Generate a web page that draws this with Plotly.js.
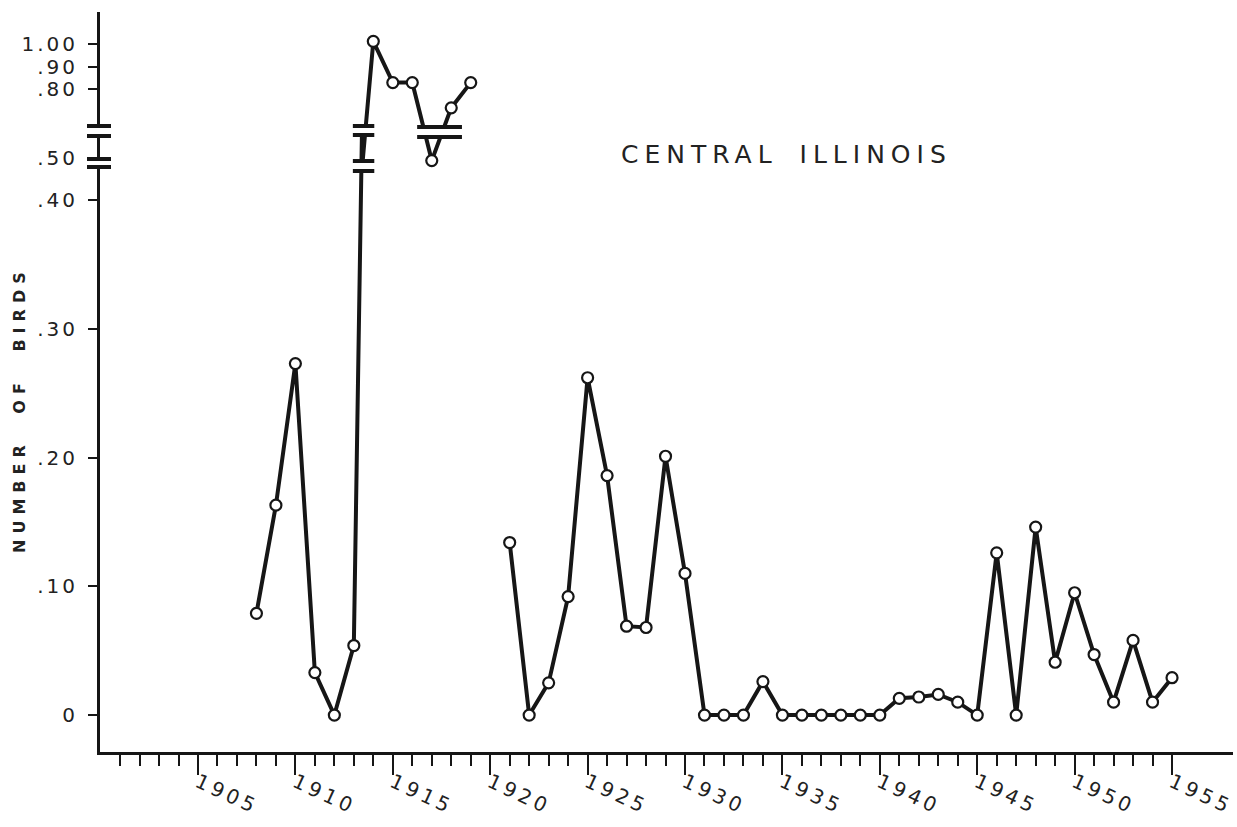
<!DOCTYPE html>
<html>
<head>
<meta charset="utf-8">
<script src="https://cdn.plot.ly/plotly-3.0.1.min.js"></script>
<style>
  html, body { margin: 0; padding: 0; background: #fff; }
  #chart { width: 1237px; height: 827px; }
  .xtick text { letter-spacing: 4px; }
  .ytick text, .y2tick text { letter-spacing: 3px; }
  .annotation[data-index="0"] text { letter-spacing: 6px; word-spacing: 8px; }
  .annotation[data-index="1"] text { letter-spacing: 6px; word-spacing: 14px; }
</style>
</head>
<body>
<div id="chart"></div>
<script>
// ---- data ----
const years = [1908, 1909, 1910, 1911, 1912, 1913, 1914, 1915, 1916, 1917, 1918, 1919, 1920,
  1921, 1922, 1923, 1924, 1925, 1926, 1927, 1928, 1929, 1930,
  1931, 1932, 1933, 1934, 1935, 1936, 1937, 1938, 1939, 1940,
  1941, 1942, 1943, 1944, 1945, 1946, 1947, 1948, 1949, 1950,
  1951, 1952, 1953, 1954, 1955];
const birds = [0.079, 0.163, 0.273, 0.033, 0.000, 0.054, 1.01, 0.83, 0.83, 0.49, 0.72, 0.83, null,
  0.134, 0.000, 0.025, 0.092, 0.262, 0.186, 0.069, 0.068, 0.201, 0.110,
  0.000, 0.000, 0.000, 0.026, 0.000, 0.000, 0.000, 0.000, 0.000, 0.000,
  0.013, 0.014, 0.016, 0.010, 0.000, 0.126, 0.000, 0.146, 0.041, 0.095,
  0.047, 0.010, 0.058, 0.010, 0.029];

const xTickYears = [1905, 1910, 1915, 1920, 1925, 1930, 1935, 1940, 1945, 1950, 1955];
const xTickText  = ['1905', '1910', '1915', '1920', '1925', '1930', '1935', '1940', '1945', '1950', '1955'];
const yLowTicks  = [0, 0.10, 0.20, 0.30, 0.40];
const yLowText   = ['0', '.10', '.20', '.30', '.40'];
const yHighTicks = [0.50, 0.80, 0.90, 1.00];
const yHighText  = ['.50', '.80', '.90', '1.00'];

const titleText = 'CENTRAL ILLINOIS';
const yTitleText = 'NUMBER OF BIRDS';

// ---- layout geometry ----
const W = 1237, H = 827;
const M = {l: 100, r: 4, t: 12, b: 75};
const plotH = H - M.t - M.b;
const plotW = W - M.l - M.r;
const py = p => (H - M.b - p) / plotH;   // pixel row -> paper y
const px = p => (p - M.l) / plotW;       // pixel col -> paper x

const ink = '#161616';

const minorYears = [];
for (let y = 1901; y < 1955; y++) if (y % 5 !== 0) minorYears.push(y);

const traceStyle = {
  mode: 'lines+markers',
  line: {color: ink, width: 4},
  marker: {symbol: 'circle', size: 11, color: '#fff', line: {color: ink, width: 2.2}},
  connectgaps: false,
  hoverinfo: 'x+y',
  showlegend: false
};

const traces = [
  Object.assign({x: years, y: birds, xaxis: 'x', yaxis: 'y', type: 'scatter'}, traceStyle),
  Object.assign({x: years, y: birds, xaxis: 'x', yaxis: 'y2', type: 'scatter'}, traceStyle)
];

// break marks (decoration)
function breakPair(xref, x0, x1, yTop, yBot) {
  const out = [];
  out.push({type: 'rect', xref: xref, yref: 'paper', x0: x0, x1: x1,
    y0: py(yBot), y1: py(yTop), fillcolor: '#fff', line: {width: 0}, layer: 'above'});
  [yTop, yBot].forEach(p => out.push({type: 'line', xref: xref, yref: 'paper', x0: x0, x1: x1,
    y0: py(p), y1: py(p), line: {color: ink, width: 4}, layer: 'above'}));
  return out;
}
const shapes = [].concat(
  breakPair('paper', px(87), px(111), 126, 136),
  breakPair('paper', px(87), px(111), 159, 167),
  breakPair('x', 1912.95, 1914.05, 126, 135),
  breakPair('x', 1912.95, 1914.05, 161, 171),
  breakPair('x', 1916.25, 1918.55, 127, 137)
);

const tickFont = {family: 'DejaVu Sans, Verdana, sans-serif', size: 20, color: '#222'};

const layout = {
  width: W, height: H,
  margin: M,
  paper_bgcolor: '#fff', plot_bgcolor: 'rgba(0,0,0,0)',
  showlegend: false,
  xaxis: {
    range: [1899.97, 1958.13], autorange: false,
    showline: true, linecolor: ink, linewidth: 3,
    showgrid: false, zeroline: false,
    tickmode: 'array', tickvals: xTickYears, ticktext: xTickText,
    ticks: 'outside', ticklen: 20, tickwidth: 2, tickcolor: ink,
    tickangle: 25, ticklabelstandoff: -12, ticklabeloverflow: 'allow',
    tickfont: Object.assign({}, tickFont, {size: 20}),
    minor: {tickmode: 'array', tickvals: minorYears, ticks: 'outside', ticklen: 11,
            tickwidth: 2, tickcolor: ink, showgrid: false},
    automargin: false, fixedrange: true
  },
  yaxis: {
    domain: [0, py(125)], anchor: 'x',
    range: [-0.0287, 0.4583], autorange: false,
    showline: true, linecolor: ink, linewidth: 3,
    showgrid: false, zeroline: false,
    tickmode: 'array', tickvals: yLowTicks, ticktext: yLowText,
    ticks: 'outside', ticklen: 9, tickwidth: 2, tickcolor: ink,
    ticklabelstandoff: 6,
    tickfont: tickFont, automargin: false, fixedrange: true
  },
  yaxis2: {
    domain: [py(171), 1], anchor: 'x',
    range: [0.4446, 1.1379], autorange: false,
    showline: true, linecolor: ink, linewidth: 3,
    showgrid: false, zeroline: false,
    tickmode: 'array', tickvals: yHighTicks, ticktext: yHighText,
    ticks: 'outside', ticklen: 9, tickwidth: 2, tickcolor: ink,
    ticklabelstandoff: 6,
    tickfont: tickFont, automargin: false, fixedrange: true
  },
  shapes: shapes,
  annotations: [
    {text: titleText, xref: 'paper', yref: 'paper', x: px(786), y: py(154),
     xanchor: 'center', yanchor: 'middle', showarrow: false,
     font: {family: 'DejaVu Sans, Verdana, sans-serif', size: 25, color: '#222'}},
    {text: yTitleText, xref: 'paper', yref: 'paper', x: px(19), y: py(410),
     xanchor: 'center', yanchor: 'middle', showarrow: false, textangle: -90,
     font: {family: 'DejaVu Sans, Verdana, sans-serif', size: 16, color: '#222', weight: 'bold'}}
  ]
};

Plotly.newPlot('chart', traces, layout, {displayModeBar: false, staticPlot: true});
</script>
</body>
</html>
